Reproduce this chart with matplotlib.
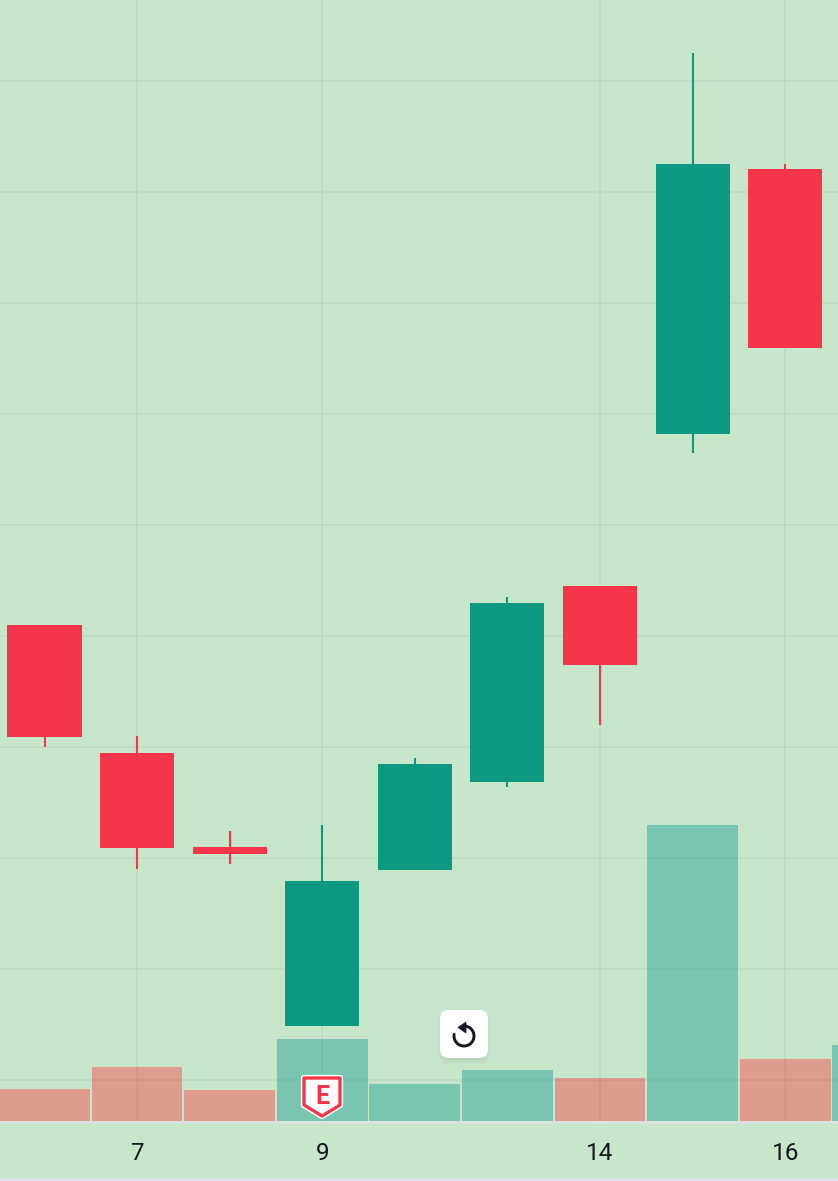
import numpy as np
import matplotlib
matplotlib.use("Agg")
import matplotlib.pyplot as plt
from matplotlib.patches import FancyBboxPatch, PathPatch, Polygon, Rectangle
from matplotlib.path import Path

plt.rcParams['font.family'] = ['Roboto', 'DejaVu Sans']

# Valores
opens = [158.20, 155.89, 154.20, 150.97, 153.78, 155.37, 158.90, 161.64, 166.41]
closes = [156.18, 154.18, 154.07, 153.59, 155.69, 158.59, 157.48, 166.50, 163.19]
highs = [158.20, 156.20, 154.49, 154.59, 155.80, 158.70, 158.90, 168.50, 166.50]
lows = [156.00, 153.80, 153.89, 150.97, 153.78, 155.28, 156.40, 161.30, 163.19]
volumes = [1.60, 2.70, 1.55, 4.10, 1.85, 2.55, 2.15, 14.80, 3.10, 3.80]
vol_up = [False, False, False, True, True, True, False, True, False, True]
price_ticks = [150, 152, 154, 156, 158, 160, 162, 164, 166, 168]
date_pos = [1, 3, 6, 8]
date_labels = ["7", "9", "14", "16"]

BG = "#c8e6c9"
GREEN = "#0c9881"
RED = "#f5364a"
W, H = 838, 1181
PLOT_BOTTOM = 1121
X0 = 44.5
STEP = 92.58

fig = plt.figure(figsize=(W / 100, H / 100), dpi=100, facecolor=BG)
rect = [0, 1 - PLOT_BOTTOM / H, 1, PLOT_BOTTOM / H]

# Volumen debajo
ax_vol = fig.add_axes(rect, zorder=1)
ax_vol.axis("off")
ax_vol.bar(range(len(volumes)), volumes, width=0.98,
           color=["#78c6b1" if up else "#de9c8c" for up in vol_up])
ax_vol.set_ylim(0, 56.05)

# Velas encima
ax = fig.add_axes(rect, zorder=2)
ax.patch.set_visible(False)
for s in ax.spines.values():
    s.set_visible(False)
for i in range(len(opens)):
    c = GREEN if closes[i] >= opens[i] else RED
    ax.vlines(i, lows[i], highs[i], color=c, lw=1.5, zorder=3)
    ax.bar(i, abs(closes[i] - opens[i]), bottom=min(opens[i], closes[i]),
           width=0.8, color=c, zorder=4)
ax.set_yticks(price_ticks)
ax.set_xticks(date_pos)
ax.set_xticklabels([])
ax.tick_params(length=0, labelleft=False)
ax.grid(True, color="#000000", alpha=0.035, lw=1.5)
ax.set_axisbelow(True)
ax.set_ylim(149.26, 169.46)

for a in (ax, ax_vol):
    a.set_xlim(-X0 / STEP, (W - X0) / STEP)

# Capa en pixeles para etiquetas, separadores y controles
ov = fig.add_axes([0, 0, 1, 1], zorder=3)
ov.set_xlim(0, W)
ov.set_ylim(H, 0)
ov.axis("off")
ov.add_patch(Rectangle((0, 1121), W, 2.5, color="#dde3e3", lw=0))
ov.add_patch(Rectangle((0, 1178), W, 3, color="#e1e3ec", lw=0))
for p, lab in zip(date_pos, date_labels):
    ov.text(X0 + STEP * p, 1153.5, lab, ha="center", va="center",
            fontsize=17.5, color="#131722")

# Marcador E
shield = [(304, 1078), (340, 1078), (340, 1105), (322, 1116), (304, 1105), (304, 1078)]
codes = [Path.MOVETO] + [Path.LINETO] * 4 + [Path.CLOSEPOLY]
ov.add_patch(PathPatch(Path(shield, codes), fc="white", ec="white", lw=4.5, joinstyle="round"))
ov.add_patch(PathPatch(Path(shield, codes), fc="white", ec=RED, lw=2.4, joinstyle="round"))
ov.text(322, 1097, "E", ha="center", va="center", fontsize=18, fontweight="bold", color=RED)

# Boton de reinicio
for grow, al in [(8, 0.02), (6, 0.03), (4, 0.04), (2, 0.05)]:
    ov.add_patch(FancyBboxPatch((446 - grow, 1018 - grow + 2), 36 + 2 * grow, 36 + 2 * grow,
                                boxstyle="round,pad=0,rounding_size=10",
                                fc="black", ec="none", alpha=al))
ov.add_patch(FancyBboxPatch((446, 1016), 36, 36, boxstyle="round,pad=6,rounding_size=9",
                            fc="white", ec="none"))
ang = np.radians(np.linspace(-90, 190, 60))
ov.plot(464 + 10 * np.cos(ang), 1036 + 10 * np.sin(ang), color="#131722", lw=2.1,
        solid_capstyle="round")
ov.add_patch(Polygon([(466, 1022), (466, 1033), (458, 1027.5)], closed=True, fc="#131722", ec="#131722", lw=0.5))

fig.savefig("out.png", dpi=100, facecolor=BG)
